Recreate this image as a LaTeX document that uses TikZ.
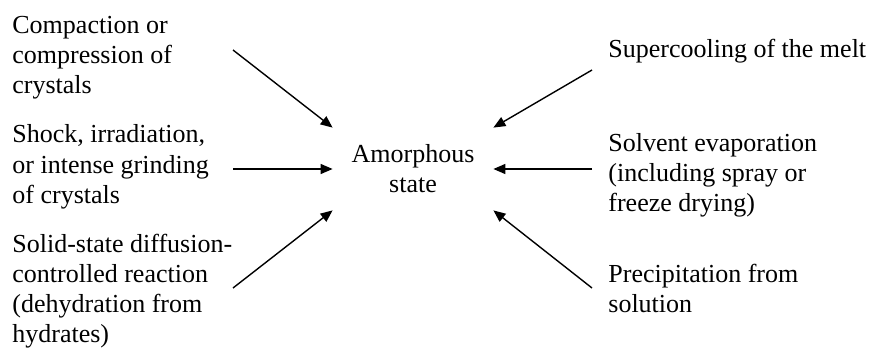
\documentclass[tikz,border=0pt]{standalone}
\usepackage{fontspec}
\setmainfont{LiberationSerif}[Extension=.ttf, UprightFont=*-Regular, BoldFont=*-Bold]
\usetikzlibrary{arrows.meta,positioning}

\tikzset{
  cause/.style={align=left, inner sep=0pt, anchor=base west, font=\fontsize{13}{15}\selectfont},
  feed/.style={-{Triangle[length=6pt,width=5pt]}, line width=0.7pt},
}

\begin{document}
\begin{tikzpicture}[x=0.5pt, y=-0.5pt]
		\useasboundingbox (0,0) rectangle (873,358);
		\node[align=center, inner sep=0pt, minimum width=80pt, minimum height=41pt, font=\fontsize{13}{15}\selectfont] (amorph) at (413,169) {Amorphous\\state};
		
		% base anchor sits on the last line
		\node[cause] (compact) at (12,94) {Compaction or\\compression of\\crystals};
		\node[cause] (shock) at (12,203) {Shock, irradiation,\\or intense grinding\\of crystals};
		\node[cause] (solid) at (12,342) {Solid-state diffusion-\\controlled reaction\\(dehydration from\\hydrates)};
		\node[cause] (supercool) at (608,58) {Supercooling of the melt};
		\node[cause] (solvent) at (608,212) {Solvent evaporation\\(including spray or\\freeze drying)};
		\node[cause] (precip) at (608,312) {Precipitation from\\solution};
		
		\coordinate (compactend) at (233,50);
		\coordinate (shockend) at (233,169);
		\coordinate (solidend) at (233,288);
		\coordinate (supercoolend) at (592,70);
		\coordinate (solventend) at (592,169);
		\coordinate (precipend) at (592,288);
		
		\draw [feed] (compactend) to (amorph.north west);
		\draw [feed] (shockend) to (amorph.west);
		\draw [feed] (solidend) to (amorph.south west);
		\draw [feed] (supercoolend) to (amorph.north east);
		\draw [feed] (solventend) to (amorph.east);
		\draw [feed] (precipend) to (amorph.south east);
\end{tikzpicture}
\end{document}
